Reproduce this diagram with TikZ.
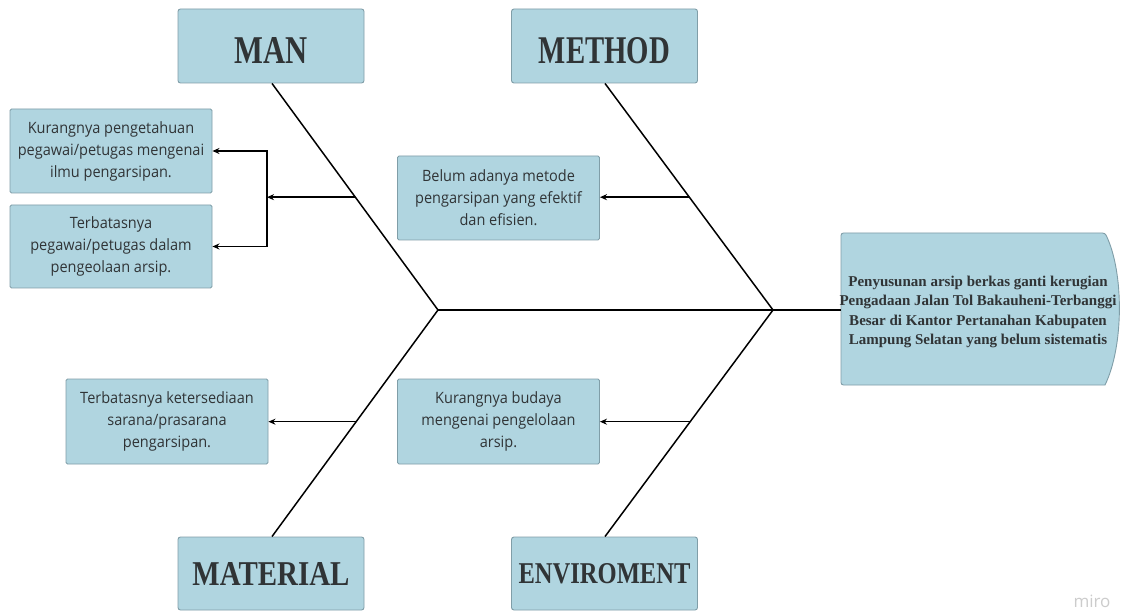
\documentclass[tikz,border=0pt]{standalone}
\usepackage{fontspec}
\setmainfont{Liberation Serif}
\newfontfamily\causefont[FakeStretch=0.93]{Open Sans}
\newfontfamily\miofont{Open Sans}
\newfontfamily\titlefont{Liberation Serif}
\usetikzlibrary{calc,arrows.meta}
\definecolor{boxfill}{RGB}{176,213,224}
\definecolor{boxline}{RGB}{128,158,168}
\definecolor{txt}{RGB}{48,52,54}
\tikzset{
  causebox/.style={draw=boxline, fill=boxfill, line width=0.9pt, rounded corners=1.5pt,
    minimum width=202, minimum height=84, inner sep=0pt, align=center,
    text=txt, font=\causefont\fontsize{15.6}{22}\selectfont},
  titlebox/.style={draw=boxline, fill=boxfill, line width=0.9pt, rounded corners=2.5pt,
    minimum width=186, minimum height=74, inner sep=0pt, text=txt},
  headtext/.style={minimum width=272, minimum height=152, inner sep=0pt, align=center, text=txt,
    font=\bfseries\fontsize{15}{19.5}\selectfont},
  bone/.style={line width=1.5pt, black},
  arr/.style={line width=1.6pt, black, -{Stealth[length=7pt,width=6pt]}}
}
\begin{document}
\begin{tikzpicture}[x=1pt,y=-1pt]
\useasboundingbox[fill=white] (0,0) rectangle (1122,612);
% title boxes
\node[titlebox, text height=36pt] (man) at (271,46) {\resizebox{73pt}{26pt}{\titlefont\bfseries MAN}};
\node[titlebox, text height=36pt] (method) at (604.5,46) {\resizebox{131pt}{26pt}{\titlefont\bfseries METHOD}};
\node[titlebox, minimum height=73] (material) at (271,573.5) {\resizebox{157pt}{23pt}{\titlefont\bfseries MATERIAL}};
\node[titlebox, minimum height=73] (env) at (604.5,573.5) {\resizebox{172pt}{20pt}{\titlefont\bfseries ENVIROMENT}};
% cause boxes
\node[causebox] (c1) at (111,151) {Kurangnya pengetahuan\\pegawai/petugas mengenai\\ilmu pengarsipan.};
\node[causebox, minimum height=83] (c2) at (111,246.5) {Terbatasnya\\pegawai/petugas dalam\\pengeolaan arsip.};
\node[causebox] (c3) at (498.5,198) {Belum adanya metode\\pengarsipan yang efektif\\dan efisien.};
\node[causebox, minimum height=85] (c4) at (167,421.5) {Terbatasnya ketersediaan\\sarana/prasarana\\pengarsipan.};
\node[causebox, minimum height=85] (c5) at (498.5,421.5) {Kurangnya budaya\\mengenai pengelolaan\\arsip.};
% head shape
\fill[boxfill, draw=boxline, line width=0.9pt]
  (1105,233) .. controls (1124,272) and (1124,346) .. (1105,385)
  [rounded corners=2.5pt] -- (841,385) -- (841,233) -- cycle;
\node[headtext] (head) at (978,312)
  {Penyusunan arsip berkas ganti kerugian\\Pengadaan Jalan Tol Bakauheni-Terbanggi\\Besar di Kantor Pertanahan Kabupaten\\Lampung Selatan yang belum sistematis};
% spine
\coordinate (L) at (438,310);
\coordinate (R) at (773,310);
\coordinate (hw) at (841,310);
\draw[bone] (L) -- (hw);
\draw[bone] (man.south -| 272,0) -- (L);
\draw[bone] (method.south -| 605,0) -- (R);
\draw[bone] (material.north -| 272,0) -- (L);
\draw[bone] (env.north -| 605,0) -- (R);
% arrow points on bones
\coordinate (pman) at ($(man.south -| 272,0)!0.502!(L)$);
\coordinate (pmet) at ($(method.south -| 605,0)!0.502!(R)$);
\coordinate (pmat) at ($(L)!0.493!(material.north -| 272,0)$);
\coordinate (penv) at ($(R)!0.493!(env.north -| 605,0)$);
\coordinate (br) at (267,0 |- pman);
\draw[arr] (pman) -- (br);
\draw[arr] (br) |- (c1.east);
\draw[arr] (br) |- (c2.east);
\draw[arr] (pmet) -- (c3.east |- pmet);
\draw[arr] (pmat) -- (c4.east |- pmat);
\draw[arr] (penv) -- (c5.east |- penv);
% watermark
\node[text=black!20, font=\miofont\fontsize{17}{17}\selectfont, inner sep=0pt] (miro) at (1092,601) {miro};
\end{tikzpicture}
\end{document}
